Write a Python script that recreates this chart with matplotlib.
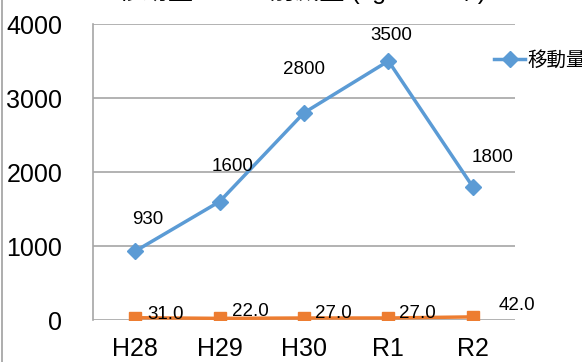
import matplotlib
matplotlib.use('Agg')
import matplotlib.pyplot as plt
from matplotlib.lines import Line2D

# data
years = ['H28', 'H29', 'H30', 'R1', 'R2']
moved = [930, 1600, 2800, 3500, 1800]
co2 = [31.0, 22.0, 27.0, 27.0, 42.0]

FONT = ['Liberation Sans', 'Noto Sans CJK JP', 'DejaVu Sans']
plt.rcParams['font.family'] = FONT

BLUE = '#5B9BD5'
ORANGE = '#ED7D31'
GRID = '#A6A6A6'

fig = plt.figure(figsize=(5.82, 3.62), dpi=100)
ax = fig.add_axes([93 / 582, 42 / 362, 422 / 582, 296 / 362])

x = list(range(len(years)))
ax.plot(x, moved, '-D', color=BLUE, linewidth=2.5, markersize=8, label='移動量', zorder=3)
ax.plot(x, co2, '-s', color=ORANGE, linewidth=2.5, markersize=8.5, zorder=3)

ax.set_xlim(-0.5, len(years) - 0.5)
ax.set_ylim(0, 4000)
ax.set_yticks([0, 1000, 2000, 3000, 4000])
ax.set_xticks(x)
ax.set_xticklabels(years)
ax.tick_params(axis='y', length=0, pad=22, labelsize=18)
ax.tick_params(axis='x', length=0, pad=12, labelsize=18)
ax.yaxis.grid(True, color=GRID, linewidth=1.2)
ax.set_axisbelow(True)
for s in ['top', 'right', 'bottom']:
    ax.spines[s].set_visible(False)
ax.spines['left'].set_color(GRID)
ax.spines['left'].set_linewidth(1.2)

# data labels (offsets in points)
blue_off = [(9, 17), (9, 19), (0, 25), (2, 12), (14, 15)]
for i, v in enumerate(moved):
    ax.annotate(f"{v}", (x[i], v), xytext=blue_off[i], textcoords='offset points',
                ha='center', va='bottom', fontsize=13.5, color='black')

orange_off = [(22, -4), (22, -1), (21, -3), (21, -3), (32, 2)]
for i, v in enumerate(co2):
    ax.annotate(f"{v:.1f}", (x[i], v), xytext=orange_off[i], textcoords='offset points',
                ha='center', va='bottom', fontsize=13.5, color='black')

ax.legend(loc='center left', bbox_to_anchor=(494 / 582, 1 - 60 / 362),
          bbox_transform=fig.transFigure, frameon=False, fontsize=14,
          handlelength=1.6, handletextpad=0.1, borderaxespad=0, borderpad=0)

# title cut off at the top of the picture
fig.text(118 / 582, 1 + 1.5 / 362, '移動量・CO2削減量 (kg-CO2/年)', ha='left', va='baseline',
         fontsize=18, color='black')

# outer frame line at the left edge
fig.add_artist(Line2D([1.5 / 582, 1.5 / 582], [0, 1], color='#A0A0A0', linewidth=1.2,
                      transform=fig.transFigure))

plt.savefig('out.png', dpi=100)
plt.close()
